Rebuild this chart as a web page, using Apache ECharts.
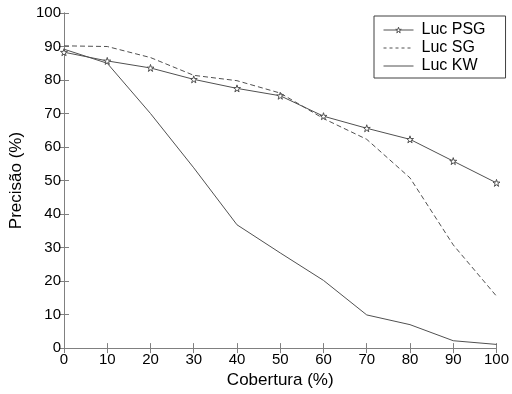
<!DOCTYPE html>
<html>
<head>
<meta charset="utf-8">
<script src="https://cdn.jsdelivr.net/npm/echarts@6/dist/echarts.min.js"></script>
<style>
  html, body { margin: 0; padding: 0; background: #fff; }
  #chart { width: 512px; height: 394px; }
</style>
</head>
<body>
<div id="chart"></div>
<script>
// coverage (%) on the x axis
const cobertura = [0, 10, 20, 30, 40, 50, 60, 70, 80, 90, 100];
// precision (%) per method
const lucPSG = [88.3, 85.7, 83.6, 80.2, 77.5, 75.3, 69.2, 65.6, 62.3, 55.8, 49.3];
const lucSG = [90.2, 90.0, 86.7, 81.4, 79.8, 76.1, 68.5, 62.3, 50.8, 30.8, 15.5];
const lucKW = [89.2, 85.0, 70.0, 53.8, 36.8, 28.4, 20.2, 9.9, 7.0, 2.2, 1.1];

const lineColor = "#505050";
const axisColor = "#808080";
const font = "'Liberation Sans', Arial, sans-serif";
const star = "path://M50 0 L61 35 L98 35 L68 57 L79 91 L50 70 L21 91 L32 57 L2 35 L39 35 Z";

const pairs = (ys) => cobertura.map((x, i) => [x, ys[i]]);

const chart = echarts.init(document.getElementById("chart"));

const frameAxis = (extra) => Object.assign({
  min: 0,
  max: 100,
  interval: 10,
  axisLine: { show: true, lineStyle: { color: axisColor, width: 1 } },
  axisTick: { show: true, inside: true, length: 5, lineStyle: { color: axisColor } },
  splitLine: { show: false }
}, extra);

chart.setOption({
  animation: false,
  grid: { left: 64, right: 14, top: 13, bottom: 41 },
  legend: {
    orient: "vertical",
    left: 374,
    top: 16,
    padding: [6, 20, 4, 9],
    itemWidth: 30,
    itemHeight: 7,
    itemGap: 2,
    borderColor: "#404040",
    borderWidth: 1,
    backgroundColor: "#fff",
    lineStyle: { width: 1 },
    textStyle: { fontFamily: font, fontSize: 16, color: "#000", padding: [0, 0, 0, 3] },
    data: [
      { name: "Luc PSG", itemStyle: { color: "#fff", borderColor: lineColor, borderWidth: 1 } },
      { name: "Luc SG", itemStyle: { opacity: 0 }, lineStyle: { type: [3, 3] } },
      { name: "Luc KW", itemStyle: { opacity: 0 } }
    ]
  },
  xAxis: [
    frameAxis({
      type: "value",
      position: "bottom",
      name: "Cobertura (%)",
      nameLocation: "middle",
      nameGap: 22,
      nameTextStyle: { fontFamily: font, fontSize: 17, color: "#000" },
      axisLabel: { fontFamily: font, fontSize: 15, color: "#000", margin: 4 }
    }),
    frameAxis({ type: "value", position: "top", axisLabel: { show: false } })
  ],
  yAxis: [
    frameAxis({
      type: "value",
      position: "left",
      name: "Precisão (%)",
      nameLocation: "middle",
      nameGap: 29,
      nameTextStyle: { fontFamily: font, fontSize: 17, color: "#000" },
      axisLabel: { fontFamily: font, fontSize: 15, color: "#000", margin: 3 }
    }),
    frameAxis({ type: "value", position: "right", axisLabel: { show: false } })
  ],
  series: [
    {
      name: "Luc PSG",
      type: "line",
      data: pairs(lucPSG),
      symbol: star,
      symbolSize: 7,
      lineStyle: { color: lineColor, width: 1 },
      itemStyle: { color: "#fff", borderColor: lineColor, borderWidth: 1 }
    },
    {
      name: "Luc SG",
      type: "line",
      data: pairs(lucSG),
      showSymbol: false,
      symbol: "none",
      lineStyle: { color: lineColor, width: 1, type: [5, 3] },
      itemStyle: { color: lineColor }
    },
    {
      name: "Luc KW",
      type: "line",
      data: pairs(lucKW),
      showSymbol: false,
      symbol: "none",
      lineStyle: { color: lineColor, width: 1 },
      itemStyle: { color: lineColor }
    }
  ]
});
</script>
</body>
</html>
